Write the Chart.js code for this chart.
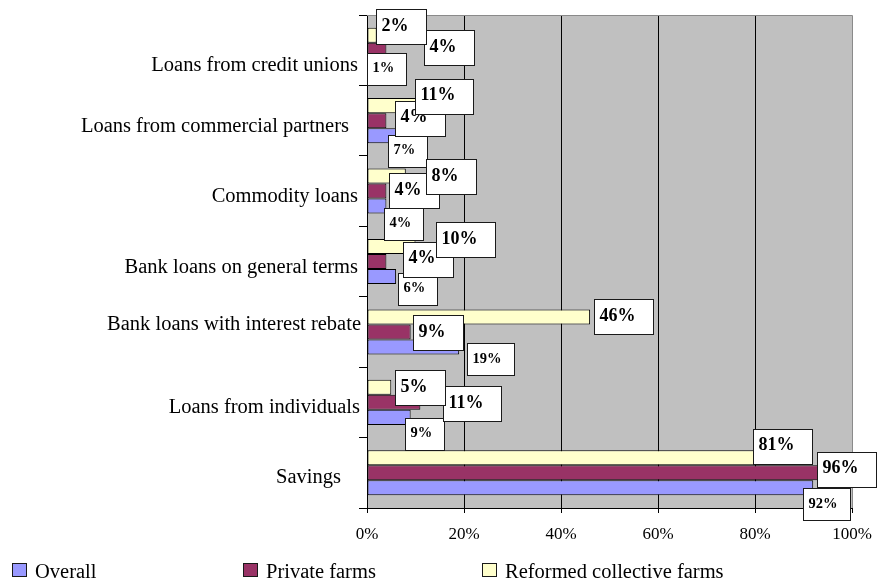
<!DOCTYPE html>
<html>
<head>
<meta charset="utf-8">
<title>Sources of financing</title>
<script src="https://cdn.jsdelivr.net/npm/chart.js@4.4.1/dist/chart.umd.min.js"></script>
<style>
  html, body { margin: 0; padding: 0; background: #ffffff; }
  #wrap { width: 877px; height: 581px; position: relative; }
</style>
</head>
<body>
<div id="wrap"><canvas id="chart" width="877" height="581"></canvas></div>
<script>
// ---- data ----
const categories = [
  'Loans from credit unions',
  'Loans from commercial partners',
  'Commodity loans',
  'Bank loans on general terms',
  'Bank loans with interest rebate',
  'Loans from individuals',
  'Savings'
];
const overall       = [1, 7, 4, 6, 19, 9, 92];
const privateFarms  = [4, 4, 4, 4, 9, 11, 96];
const reformedFarms = [2, 11, 8, 10, 46, 5, 81];
const xTickValues   = [0, 20, 40, 60, 80, 100];
const seriesNames   = ['Overall', 'Private farms', 'Reformed collective farms'];

// ---- styling ----
const SERIF = '"Liberation Serif", "Times New Roman", serif';
const colors = { overall: '#9999FF', private: '#993366', reformed: '#FFFFCC' };

// Callout boxes: [dx from bar end to box left, dy from bar centre to box centre]
const calloutStyle = {
  overall:  { font: 'bold 14.5px ' + SERIF, padL: 5.5, padR: 13, h: 33,
              shift: [[-5, 4], [-13, 16], [-2, 18], [2, 13], [8, 13], [-6, 17], [-10, 17]] },
  private:  { font: 'bold 18px ' + SERIF, padL: 5.5, padR: 18, h: 36,
              shift: [[38, -2], [9, -2], [3, 0], [17, -2], [2, 1], [23, 2], [-16, -3]] },
  reformed: { font: 'bold 18px ' + SERIF, padL: 5.5, padR: 18, h: 36,
              shift: [[-1, -8], [-5, -9], [20, 1], [20, -6], [4, 0], [4, 1], [-7, -11]] }
};
// Category label placement: [x shift, baseline shift from category centre]
const categoryLabelShift = [[0, 21], [-9, 11], [0, 11], [0, 11], [3, -2], [2, 11], [-17, 10]];

// Plot background and frame
const plotFrame = {
  id: 'plotFrame',
  beforeDraw(chart) {
    const a = chart.chartArea, ctx = chart.ctx;
    ctx.save();
    ctx.fillStyle = '#C0C0C0';
    ctx.fillRect(a.left, a.top, a.right - a.left, a.bottom - a.top);
    ctx.restore();
  },
  afterDatasetsDraw(chart) {
    const a = chart.chartArea, ctx = chart.ctx;
    ctx.save();
    ctx.strokeStyle = '#8a8a8a';
    ctx.lineWidth = 1;
    ctx.beginPath();
    ctx.moveTo(a.left, Math.round(a.top) + 0.5);
    ctx.lineTo(Math.round(a.right) + 0.5, Math.round(a.top) + 0.5);
    ctx.lineTo(Math.round(a.right) + 0.5, a.bottom);
    ctx.stroke();
    ctx.restore();
  }
};

// Value callouts in white boxes next to each bar end
const valueCallouts = {
  id: 'valueCallouts',
  afterDraw(chart) {
    const ctx = chart.ctx;
    // Overall first, then private farms, reformed farms on top
    [2, 1, 0].forEach(di => {
      const ds = chart.data.datasets[di];
      const st = calloutStyle[ds.key];
      const meta = chart.getDatasetMeta(di);
      meta.data.forEach((el, i) => {
        const text = ds.data[i] + '%';
        ctx.save();
        ctx.font = st.font;
        const w = ctx.measureText(text).width + st.padL + st.padR;
        const left = Math.round(el.x + st.shift[i][0]);
        const cy = el.y + st.shift[i][1];
        const top = Math.round(cy - st.h / 2);
        ctx.fillStyle = '#ffffff';
        ctx.fillRect(left, top, Math.round(w), st.h);
        ctx.strokeStyle = '#1a1a1a';
        ctx.lineWidth = 1;
        ctx.strokeRect(left + 0.5, top + 0.5, Math.round(w) - 1, st.h - 1);
        ctx.fillStyle = '#000000';
        ctx.textAlign = 'left';
        ctx.textBaseline = 'middle';
        ctx.fillText(text, left + st.padL, cy - 1);
        ctx.restore();
      });
    });
  }
};

// Category names on the left of the value axis
const categoryNames = {
  id: 'categoryNames',
  afterDraw(chart) {
    const ctx = chart.ctx, ys = chart.scales.y;
    ctx.save();
    ctx.font = '20.5px ' + SERIF;
    ctx.fillStyle = '#000000';
    ctx.textAlign = 'right';
    ctx.textBaseline = 'alphabetic';
    categories.forEach((name, i) => {
      const s = categoryLabelShift[i];
      ctx.fillText(name, chart.chartArea.left - 9 + s[0], ys.getPixelForValue(i) + s[1]);
    });
    ctx.restore();
  }
};

// Legend row along the bottom edge
const bottomLegend = {
  id: 'bottomLegend',
  afterDraw(chart) {
    const ctx = chart.ctx;
    const order = [2, 1, 0];
    const boxX = [12, 243, 482];
    ctx.save();
    ctx.font = '20.5px ' + SERIF;
    ctx.textAlign = 'left';
    ctx.textBaseline = 'alphabetic';
    order.forEach((di, k) => {
      const ds = chart.data.datasets[di];
      ctx.fillStyle = ds.backgroundColor;
      ctx.fillRect(boxX[k], 563, 15, 14);
      ctx.strokeStyle = '#1a1a1a';
      ctx.lineWidth = 1;
      ctx.strokeRect(boxX[k] + 0.5, 563.5, 14, 13);
      ctx.fillStyle = '#000000';
      ctx.fillText(ds.label, boxX[k] + 23, 578);
    });
    ctx.restore();
  }
};

new Chart(document.getElementById('chart'), {
  type: 'bar',
  data: {
    labels: categories,
    datasets: [
      { key: 'reformed', label: seriesNames[2], data: reformedFarms, backgroundColor: colors.reformed },
      { key: 'private',  label: seriesNames[1], data: privateFarms,  backgroundColor: colors.private },
      { key: 'overall',  label: seriesNames[0], data: overall,       backgroundColor: colors.overall }
    ]
  },
  options: {
    indexAxis: 'y',
    responsive: false,
    animation: false,
    devicePixelRatio: 1,
    layout: { padding: { left: 0, right: 25, top: 15, bottom: 33 } },
    datasets: {
      bar: {
        categoryPercentage: 0.64,
        barPercentage: 1.0,
        borderColor: '#000000',
        borderWidth: 1,
        borderSkipped: false
      }
    },
    plugins: {
      legend: { display: false },
      tooltip: { enabled: false },
      title: { display: false }
    },
    scales: {
      x: {
        min: 0,
        max: 100,
        afterBuildTicks(scale) { scale.ticks = xTickValues.map(v => ({ value: v })); },
        afterFit(scale) {
          scale.height = 40;
          scale.paddingLeft = 0;
          scale.paddingRight = 0;
        },
        ticks: {
          callback: v => v + '%',
          color: '#000000',
          padding: 11,
          maxRotation: 0,
          font: { family: SERIF, size: 17 }
        },
        grid: {
          color: c => (c.tick && (c.tick.value === 0 || c.tick.value === 100)) ? 'rgba(0,0,0,0)' : '#000000',
          tickColor: '#000000',
          tickLength: 5,
          lineWidth: 1
        },
        border: { display: true, color: '#000000', width: 1 }
      },
      y: {
        afterFit(scale) { scale.width = 367; },
        ticks: { display: false },
        grid: {
          offset: true,
          drawOnChartArea: false,
          drawTicks: true,
          tickLength: 8,
          color: '#000000',
          tickColor: '#000000'
        },
        border: { display: true, color: '#000000', width: 1 }
      }
    }
  },
  plugins: [plotFrame, valueCallouts, categoryNames, bottomLegend]
});
</script>
</body>
</html>
